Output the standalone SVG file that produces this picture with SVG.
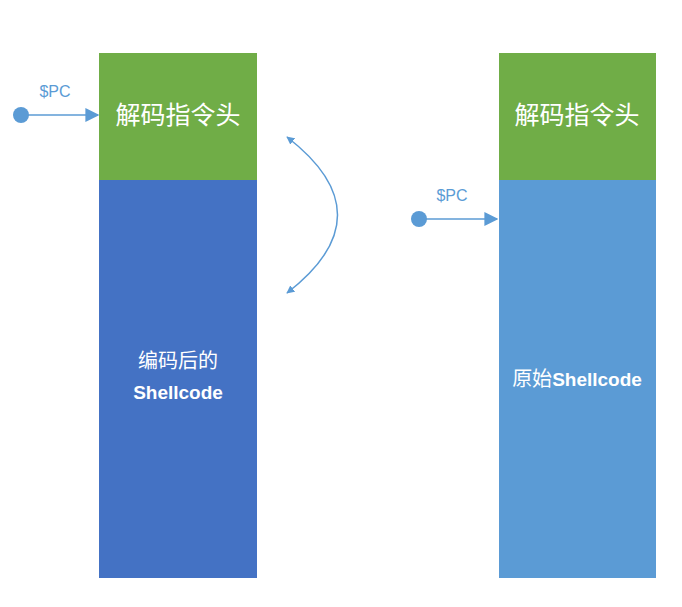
<svg xmlns="http://www.w3.org/2000/svg" width="682" height="607" viewBox="0 0 682 607">
<style>
.t{fill:#fff;font-family:"Liberation Sans","Noto Sans CJK SC",sans-serif;text-anchor:middle}
.pc{fill:#5B9BD5;font-family:"Liberation Sans",sans-serif;font-size:16px;text-anchor:middle}
.ln{stroke:#5B9BD5;stroke-width:1.5;fill:none}
</style>
<defs>
<marker id="a" viewBox="0 0 10 10" refX="9" refY="5" markerWidth="8" markerHeight="8" orient="auto-start-reverse" markerUnits="userSpaceOnUse"><path d="M0,0L10,5L0,10z" fill="#5B9BD5"/></marker>
<marker id="b" viewBox="0 0 10 10" refX="9" refY="5" markerWidth="14" markerHeight="14" orient="auto" markerUnits="userSpaceOnUse"><path d="M0,0L10,5L0,10z" fill="#5B9BD5"/></marker>
</defs>
<rect width="682" height="607" fill="#fff"/>
<g id="left">
<rect x="99" y="53" width="158" height="127" fill="#70AD47"/>
<rect x="99" y="180" width="158" height="398" fill="#4472C4"/>
<text class="t" x="178" y="124" font-size="25">解码指令头</text>
<text class="t" x="178" y="368" font-size="20">编码后的</text>
<text class="t" x="178" y="399" font-size="19" font-weight="bold">Shellcode</text>
</g>
<g id="right">
<rect x="499" y="53" width="157" height="127" fill="#70AD47"/>
<rect x="499" y="180" width="157" height="398" fill="#5B9BD5"/>
<text class="t" x="577" y="124" font-size="25">解码指令头</text>
<text class="t" x="577" y="386" font-size="20">原始<tspan font-weight="bold" font-size="19">Shellcode</tspan></text>
</g>
<g id="connectors">
<circle cx="21" cy="115" r="8" fill="#5B9BD5"/>
<line class="ln" x1="21" y1="115" x2="98" y2="115" marker-end="url(#b)"/>
<text class="pc" x="55" y="97">$PC</text>
<circle cx="419" cy="219" r="8" fill="#5B9BD5"/>
<line class="ln" x1="419" y1="219" x2="497" y2="219" marker-end="url(#b)"/>
<text class="pc" x="452" y="201">$PC</text>
<path class="ln" d="M287,137 Q388,215 287,293" marker-start="url(#a)" marker-end="url(#a)"/>
</g>
</svg>
